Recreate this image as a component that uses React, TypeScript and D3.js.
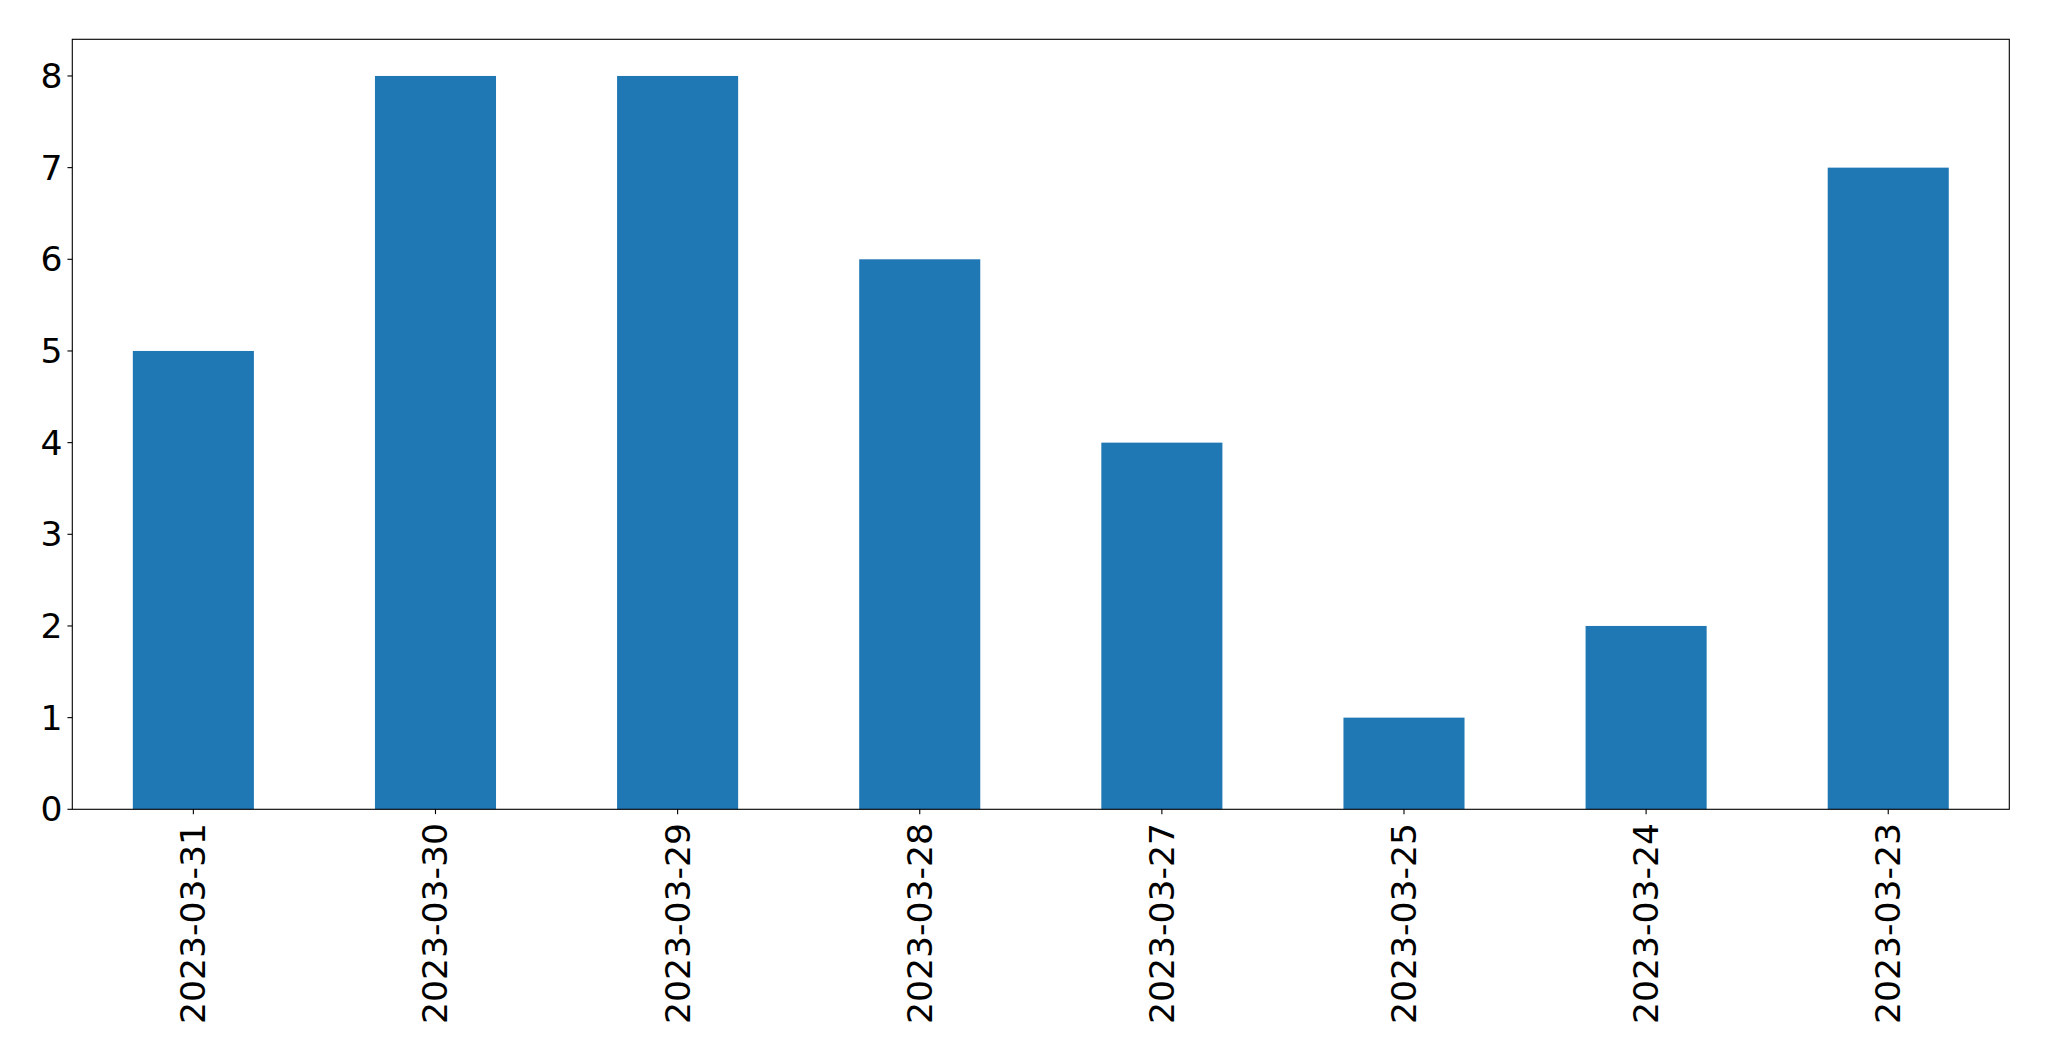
import React from "react";
import * as d3 from "d3";

const categories: string[] = [
  "2023-03-31",
  "2023-03-30",
  "2023-03-29",
  "2023-03-28",
  "2023-03-27",
  "2023-03-25",
  "2023-03-24",
  "2023-03-23",
];
const values: number[] = [5, 8, 8, 6, 4, 1, 2, 7];
const yTicks: number[] = [0, 1, 2, 3, 4, 5, 6, 7, 8];

const W = 2049;
const H = 1061;
const M = { left: 72.3, right: 2009.3, top: 39.3, bottom: 809.3 };
const FONT = "'DejaVu Sans', sans-serif";
const FS = 34.6;
const TICK = 4.86;
const PAD = 4.86;
const BAR = "#1f77b4";

export default function App() {
  const x = d3
    .scaleLinear()
    .domain([-0.5, categories.length - 0.5])
    .range([M.left, M.right]);
  const y = d3.scaleLinear().domain([0, 8.4]).range([M.bottom, M.top]);
  const bw = x(0.25) - x(-0.25);

  return (
    <svg
      width={W}
      height={H}
      style={{ position: "absolute", left: 0, top: 0, display: "block", background: "#fff" }}
    >
      <rect x={0} y={0} width={W} height={H} fill="#fff" />
      {values.map((v, i) => (
        <rect
          key={i}
          x={x(i) - bw / 2}
          y={y(v)}
          width={bw}
          height={y(0) - y(v)}
          fill={BAR}
        />
      ))}
      <rect
        x={M.left}
        y={M.top}
        width={M.right - M.left}
        height={M.bottom - M.top}
        fill="none"
        stroke="#000"
        strokeWidth={1.11}
      />
      {yTicks.map((t) => (
        <g key={t}>
          <line x1={M.left - TICK} x2={M.left} y1={y(t)} y2={y(t)} stroke="#000" strokeWidth={1.11} />
          <text
            x={M.left - TICK - PAD}
            y={y(t)}
            textAnchor="end"
            dominantBaseline="central"
            fontFamily={FONT}
            fontSize={FS}
            fill="#000"
          >
            {t}
          </text>
        </g>
      ))}
      {categories.map((c, i) => (
        <g key={c}>
          <line x1={x(i)} x2={x(i)} y1={M.bottom} y2={M.bottom + TICK} stroke="#000" strokeWidth={1.11} />
          <text
            transform={`translate(${x(i)},${M.bottom + TICK + PAD + 4}) rotate(-90)`}
            textAnchor="end"
            dominantBaseline="central"
            fontFamily={FONT}
            fontSize={FS}
            fill="#000"
          >
            {c}
          </text>
        </g>
      ))}
    </svg>
  );
}
